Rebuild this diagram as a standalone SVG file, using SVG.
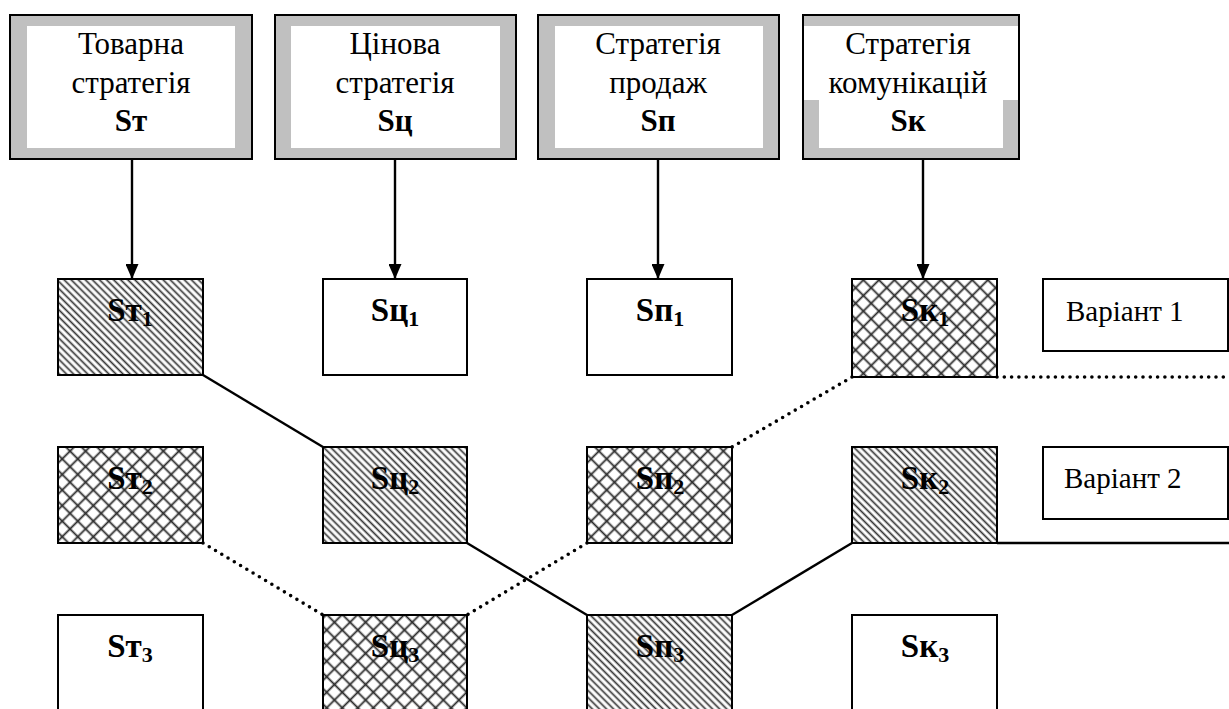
<svg xmlns="http://www.w3.org/2000/svg" width="1229" height="709" viewBox="0 0 1229 709">
<style>
.t{font-family:"Liberation Serif","Times New Roman",serif;font-size:31px;fill:#000;text-anchor:middle}
.b{font-weight:bold}
.lbl{font-family:"Liberation Serif","Times New Roman",serif;font-size:33px;font-weight:bold;fill:#000;text-anchor:middle}
.v{font-family:"Liberation Serif","Times New Roman",serif;font-size:29px;fill:#000}
.frame{fill:#c0c0c0;stroke:#000;stroke-width:2}
.box{stroke:#000;stroke-width:2}
.solid{stroke:#000;stroke-width:2.4;fill:none}
.dot{stroke:#000;stroke-width:3.6;fill:none;stroke-dasharray:0 7.3;stroke-linecap:round}
</style>
<defs>
<pattern id="hatch" patternUnits="userSpaceOnUse" width="5" height="5" patternTransform="rotate(45)">
<rect width="5" height="5" fill="#fff"/>
<line x1="0" y1="2.5" x2="5" y2="2.5" stroke="#333" stroke-width="1.7"/>
</pattern>
<pattern id="cross" patternUnits="userSpaceOnUse" width="11" height="11" patternTransform="rotate(45)">
<rect width="11" height="11" fill="#fff"/>
<line x1="0" y1="5.5" x2="11" y2="5.5" stroke="#2a2a2a" stroke-width="1.8"/>
<line x1="5.5" y1="0" x2="5.5" y2="11" stroke="#2a2a2a" stroke-width="1.8"/>
</pattern>
<marker id="arr" markerWidth="15" markerHeight="13" refX="15" refY="6.5" orient="auto" markerUnits="userSpaceOnUse" viewBox="0 0 15 13">
<path d="M0,0 L15,6.5 L0,13 Z" fill="#000"/>
</marker>
</defs>

<g id="top-tovarna">
<rect class="frame" x="10" y="15" width="242" height="144"/>
<rect x="27" y="26" width="208" height="122" fill="#fff"/>
<text class="t" x="131" y="54">Товарна</text>
<text class="t" x="131" y="93">стратегія</text>
<text class="t b" x="131" y="131">Sт</text>
</g>
<g id="top-tsinova">
<rect class="frame" x="275" y="15" width="241" height="144"/>
<rect x="291" y="26" width="209" height="122" fill="#fff"/>
<text class="t" x="395" y="54">Цінова</text>
<text class="t" x="395" y="93">стратегія</text>
<text class="t b" x="395" y="131">Sц</text>
</g>
<g id="top-prodazh">
<rect class="frame" x="538" y="15" width="241" height="144"/>
<rect x="555" y="26" width="208" height="122" fill="#fff"/>
<text class="t" x="658" y="54">Стратегія</text>
<text class="t" x="658" y="93">продаж</text>
<text class="t b" x="658" y="131">Sп</text>
</g>
<g id="top-komunikatsii">
<rect class="frame" x="803" y="15" width="216" height="144"/>
<path d="M804,26 H1018 V100 H1003 V148 H819 V100 H804 Z" fill="#fff"/>
<rect x="803" y="15" width="216" height="144" fill="none" stroke="#000" stroke-width="2"/>
<text class="t" x="908" y="54">Стратегія</text>
<text class="t" x="908" y="93">комунікацій</text>
<text class="t b" x="908" y="131">Sк</text>
</g>

<g id="st1"><rect class="box" x="58" y="279" width="145" height="96" fill="url(#hatch)"/><text class="lbl" x="130" y="321">Sт<tspan font-size="22" dy="5">1</tspan></text></g>
<g id="sts1"><rect class="box" x="323" y="279" width="144" height="96" fill="#fff"/><text class="lbl" x="395" y="321">Sц<tspan font-size="22" dy="5">1</tspan></text></g>
<g id="sp1"><rect class="box" x="587" y="279" width="145" height="96" fill="#fff"/><text class="lbl" x="660" y="321">Sп<tspan font-size="22" dy="5">1</tspan></text></g>
<g id="sk1"><rect class="box" x="852" y="279" width="145" height="98" fill="url(#cross)"/><text class="lbl" x="925" y="321">Sк<tspan font-size="22" dy="5">1</tspan></text></g>

<g id="st2"><rect class="box" x="58" y="447" width="145" height="96" fill="url(#cross)"/><text class="lbl" x="130" y="489">Sт<tspan font-size="22" dy="5">2</tspan></text></g>
<g id="sts2"><rect class="box" x="323" y="447" width="144" height="96" fill="url(#hatch)"/><text class="lbl" x="395" y="489">Sц<tspan font-size="22" dy="5">2</tspan></text></g>
<g id="sp2"><rect class="box" x="587" y="447" width="145" height="96" fill="url(#cross)"/><text class="lbl" x="660" y="489">Sп<tspan font-size="22" dy="5">2</tspan></text></g>
<g id="sk2"><rect class="box" x="852" y="447" width="145" height="96" fill="url(#hatch)"/><text class="lbl" x="925" y="489">Sк<tspan font-size="22" dy="5">2</tspan></text></g>

<g id="st3"><rect class="box" x="58" y="615" width="145" height="100" fill="#fff"/><text class="lbl" x="130" y="657">Sт<tspan font-size="22" dy="5">3</tspan></text></g>
<g id="sts3"><rect class="box" x="323" y="615" width="144" height="100" fill="url(#cross)"/><text class="lbl" x="395" y="657">Sц<tspan font-size="22" dy="5">3</tspan></text></g>
<g id="sp3"><rect class="box" x="587" y="615" width="145" height="100" fill="url(#hatch)"/><text class="lbl" x="660" y="657">Sп<tspan font-size="22" dy="5">3</tspan></text></g>
<g id="sk3"><rect class="box" x="852" y="615" width="145" height="100" fill="#fff"/><text class="lbl" x="925" y="657">Sк<tspan font-size="22" dy="5">3</tspan></text></g>

<g id="variant1"><rect class="box" x="1043" y="279" width="185" height="72" fill="#fff"/><text class="v" x="1066" y="321">Варіант 1</text></g>
<g id="variant2"><rect class="box" x="1043" y="447" width="185" height="72" fill="#fff"/><text class="v" x="1064" y="488">Варіант 2</text></g>

<g id="connectors">
<line class="solid" x1="132" y1="159" x2="132" y2="279" marker-end="url(#arr)"/>
<line class="solid" x1="395" y1="159" x2="395" y2="279" marker-end="url(#arr)"/>
<line class="solid" x1="658" y1="159" x2="658" y2="279" marker-end="url(#arr)"/>
<line class="solid" x1="923" y1="159" x2="923" y2="279" marker-end="url(#arr)"/>
<polyline class="solid" points="203,375 323,447"/>
<polyline class="solid" points="467,543 587,615"/>
<polyline class="solid" points="732,615 852,543"/>
<polyline class="solid" points="997,543 1229,543"/>
<polyline class="dot" points="997,377 1229,377"/>
<polyline class="dot" points="852,377 732,447"/>
<polyline class="dot" points="587,543 467,615"/>
<polyline class="dot" points="203,543 323,615"/>
</g>
</svg>
